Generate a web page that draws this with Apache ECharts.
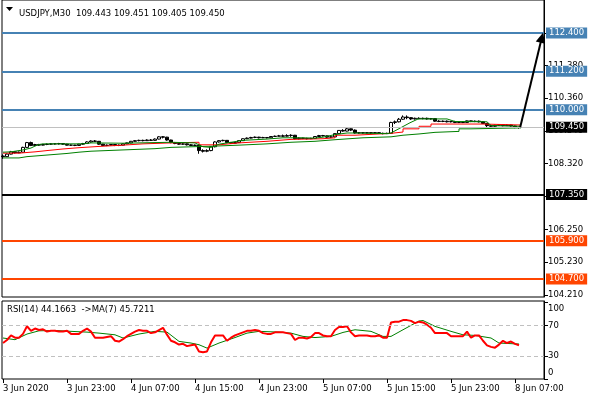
<!DOCTYPE html>
<html>
<head>
<meta charset="utf-8">
<script src="https://cdn.jsdelivr.net/npm/echarts@6/dist/echarts.min.js"></script>
<style>
  html, body { margin: 0; padding: 0; background: #fff; }
  #chart { width: 590px; height: 400px; }
</style>
</head>
<body>
<div id="chart"></div>
<script>
// USDJPY M30, one bar every 30 min from 3 Jun 15:00: [open, close, low, high]
const candles = [
  [108.55,108.53,108.46,108.60],[108.53,108.61,108.52,108.63],[108.61,108.68,108.60,108.71],[108.68,108.65,108.63,108.70],
  [108.65,108.67,108.64,108.69],[108.67,108.82,108.66,108.84],[108.82,108.97,108.80,108.99],[108.97,108.88,108.86,109.00],
  [108.88,108.91,108.87,108.93],[108.91,108.89,108.87,108.93],[108.89,108.91,108.88,108.93],[108.91,108.92,108.89,108.94],
  [108.92,108.93,108.90,108.95],[108.93,108.93,108.91,108.95],[108.93,108.94,108.91,108.96],[108.94,108.92,108.90,108.95],
  [108.92,108.89,108.88,108.93],[108.89,108.89,108.87,108.91],[108.89,108.88,108.86,108.90],[108.88,108.92,108.87,108.93],
  [108.92,108.94,108.90,108.96],[108.94,108.99,108.93,109.01],[108.99,109.02,108.97,109.04],[109.02,109.01,108.99,109.05],
  [109.01,108.92,108.90,109.02],[108.92,108.88,108.86,108.93],[108.88,108.89,108.86,108.91],[108.89,108.91,108.88,108.92],
  [108.91,108.88,108.86,108.92],[108.88,108.89,108.86,108.91],[108.89,108.93,108.88,108.94],[108.93,108.96,108.92,108.97],
  [108.96,109.01,108.95,109.02],[109.01,109.03,109.00,109.05],[109.03,109.04,109.01,109.06],[109.04,109.03,109.01,109.06],
  [109.03,109.05,109.02,109.07],[109.05,109.04,109.02,109.08],[109.04,109.08,109.03,109.10],[109.08,109.15,109.07,109.17],
  [109.15,109.14,109.10,109.17],[109.14,109.05,109.03,109.15],[109.05,108.97,108.95,109.06],[108.97,108.94,108.92,108.99],
  [108.94,108.92,108.90,108.96],[108.92,108.93,108.90,108.95],[108.93,108.90,108.88,108.94],[108.90,108.88,108.86,108.92],
  [108.88,108.89,108.86,108.91],[108.89,108.72,108.62,108.90],[108.72,108.70,108.66,108.76],[108.70,108.72,108.67,108.76],
  [108.72,108.84,108.70,108.86],[108.84,108.99,108.82,109.01],[108.99,109.03,108.97,109.05],[109.03,109.04,109.01,109.06],
  [109.04,108.97,108.95,109.05],[108.97,108.95,108.93,108.99],[108.95,108.97,108.94,108.99],[108.97,109.03,108.96,109.04],
  [109.03,109.09,109.02,109.10],[109.09,109.11,109.08,109.13],[109.11,109.13,109.10,109.15],[109.13,109.14,109.11,109.16],
  [109.14,109.12,109.10,109.15],[109.12,109.13,109.11,109.15],[109.13,109.12,109.10,109.14],[109.12,109.16,109.11,109.17],
  [109.16,109.17,109.15,109.19],[109.17,109.18,109.16,109.21],[109.18,109.17,109.15,109.22],[109.17,109.19,109.16,109.23],
  [109.19,109.20,109.15,109.23],[109.20,109.09,109.07,109.21],[109.09,109.11,109.07,109.13],[109.11,109.10,109.08,109.12],
  [109.10,109.09,109.07,109.12],[109.09,109.10,109.08,109.12],[109.10,109.16,109.09,109.17],[109.16,109.19,109.15,109.21],
  [109.19,109.18,109.16,109.21],[109.18,109.14,109.12,109.19],[109.14,109.15,109.12,109.17],[109.15,109.25,109.14,109.26],
  [109.25,109.35,109.24,109.36],[109.35,109.33,109.31,109.39],[109.33,109.40,109.32,109.43],[109.40,109.36,109.33,109.41],
  [109.36,109.27,109.25,109.38],[109.27,109.28,109.25,109.30],[109.28,109.27,109.25,109.30],[109.27,109.28,109.26,109.30],
  [109.28,109.27,109.24,109.29],[109.27,109.28,109.25,109.30],[109.28,109.26,109.24,109.29],[109.26,109.25,109.23,109.28],
  [109.25,109.26,109.24,109.28],[109.26,109.60,109.25,109.62],[109.60,109.62,109.55,109.66],[109.62,109.70,109.60,109.74],
  [109.70,109.77,109.68,109.82],[109.77,109.75,109.70,109.82],[109.75,109.71,109.68,109.76],[109.71,109.73,109.69,109.75],
  [109.73,109.72,109.70,109.76],[109.72,109.73,109.70,109.75],[109.73,109.71,109.69,109.75],[109.71,109.72,109.69,109.74],
  [109.72,109.64,109.62,109.73],[109.64,109.63,109.61,109.67],[109.63,109.64,109.61,109.66],[109.64,109.62,109.60,109.66],
  [109.62,109.63,109.60,109.65],[109.63,109.60,109.58,109.65],[109.60,109.61,109.58,109.63],[109.61,109.60,109.58,109.63],
  [109.60,109.65,109.59,109.66],[109.65,109.63,109.61,109.66],[109.63,109.64,109.61,109.66],[109.64,109.62,109.60,109.66],
  [109.62,109.57,109.55,109.63],[109.57,109.50,109.43,109.58],[109.50,109.48,109.45,109.53],[109.48,109.51,109.46,109.53],
  [109.51,109.53,109.49,109.55],[109.53,109.50,109.48,109.55],[109.50,109.52,109.49,109.54],[109.52,109.49,109.47,109.53],
  [109.49,109.44,109.42,109.50],[109.443,109.450,109.405,109.451]
];

// moving averages on the price pane: [bar, price]
const redMa = [[0,108.64],[4,108.68],[8,108.72],[11,108.77],[15,108.81],[19,108.85],[24,108.89],[30,108.93],[35,108.96],
  [42,108.98],[49,108.90],[54,108.96],[59,109.01],[66,109.07],[72,109.09],[80,109.12],[83,109.20],[88,109.26],[97,109.30],
  [100,109.40],[104,109.48],[107,109.55],[120,109.52],[129.5,109.52]];
const greenSlowMa = [[0,108.49],[4,108.53],[6,108.57],[10,108.60],[13,108.63],[16,108.67],[19,108.70],[22,108.72],[26,108.75],
  [32,108.78],[38,108.82],[42,108.86],[53,108.89],[59,108.93],[66,108.98],[72,109.01],[78,109.06],[83,109.12],[90,109.15],
  [97,109.20],[100,109.24],[104,109.29],[108,109.32],[114,109.40],[117,109.43],[129.5,109.43]];
const greenFastMa = [[0,108.67],[2,108.68],[5,108.74],[7,108.80],[8,108.86],[9,108.91],[10,108.93],[20,108.93],[22,108.96],
  [30,108.95],[38,108.97],[42,108.98],[48,108.96],[50,108.84],[52,108.82],[54,108.92],[57,108.98],[60,109.04],[66,109.08],
  [70,109.12],[74,109.12],[78,109.11],[80,109.14],[83,109.22],[86,109.27],[88,109.27],[96,109.25],[97,109.27],
  [101.75,109.59],[103.8,109.71],[111,109.71],[113,109.63],[121,109.62],[122,109.50],[129.5,109.48]];

// RSI(14), one value per bar, and its MA(7) as [bar, value]
const rsi = [47,51,57,54,54,59,69,63,66,64,65,62,63,63,62,62,63,59,59,59,63,66,62,54,54,54,55,56,50,49,
  52,56,59,62,64,63,63,60,61,64,67,58,50,48,45,46,43,44,45,36,35,36,48,57,57,57,50,54,57,59,
  61,63,63,64,63,60,59,59,61,61,61,60,59,51,54,54,53,55,60,60,57,56,56,64,68,68,69,61,56,57,
  57,57,56,56,57,54,54,74,75,75,77,77,76,73,75,74,71,67,60,60,60,60,56,56,56,56,62,54,57,57,
  50,44,42,41,45,50,47,49,46,44.17];
const rsiMa = [[0,53.6],[3,51.4],[6,58.8],[9,63],[13,63.5],[17,62.3],[21,61.3],[24,60],[28,57.8],[30,53.6],[34,58.8],
  [38,62.3],[41,61.3],[44,49.2],[47,47],[49,44.8],[51,40.4],[54,47],[58,54.2],[61,60],[64,62.3],[69,61.3],[72,60],
  [75,55.7],[78,54.2],[82,55.7],[85,60.9],[88,64.4],[92,62.3],[95,55.7],[97,55.7],[100,64.4],[104,75.8],[105,76.5],
  [108,68.8],[112,62.3],[115,57.8],[118,57],[122,53.6],[124,47],[129,45.72]];

// horizontal levels and the projection arrow
const levels = [
  { price: 112.40, color: '#4682B4', width: 2 },
  { price: 111.20, color: '#4682B4', width: 2 },
  { price: 110.00, color: '#4682B4', width: 2 },
  { price: 109.45, color: '#C0C0C0', width: 1, box: '#000' },
  { price: 107.35, color: '#000000', width: 2 },
  { price: 105.90, color: '#FF4500', width: 2 },
  { price: 104.70, color: '#FF4500', width: 2 }
];
const arrowFrom = [129.3, 109.45];
const arrowTo = [134.7, 112.25];

// axis ticks
const priceTicks = [104.21, 105.23, 106.25, 107.28, 108.32, 109.34, 110.36, 111.38, 112.40];
const rsiTicks = [0, 30, 70, 100];
const rsiLevels = [30, 70];
const timeTicks = [0, 16, 32, 48, 64, 80, 96, 112, 128];
const timeLabels = ['3 Jun 2020', '3 Jun 23:00', '4 Jun 07:00', '4 Jun 15:00', '4 Jun 23:00',
  '5 Jun 07:00', '5 Jun 15:00', '5 Jun 23:00', '8 Jun 07:00'];

const FONT = 'DejaVu Sans';
const FS = 8.5;
const X_MIN = -0.25, X_MAX = 135.25;

const chart = echarts.init(document.getElementById('chart'), null, { renderer: 'canvas' });

chart.setOption({
  animation: false,
  backgroundColor: '#fff',
  textStyle: { fontFamily: FONT },
  title: {
    text: 'USDJPY,M30  109.443 109.451 109.405 109.450',
    left: 14, top: 4,
    textStyle: { fontFamily: FONT, fontSize: FS, fontWeight: 'normal', color: '#000' }
  },
  graphic: [
    { type: 'polygon', shape: { points: [[6, 7], [13, 7], [9.5, 11]] }, style: { fill: '#000' } },
    { type: 'text', left: 7, top: 305,
      style: { text: 'RSI(14) 44.1663  ->MA(7) 45.7211', fill: '#000', font: FS + 'px "' + FONT + '"' } }
  ],
  grid: [
    { left: 2, right: 46, top: 0, height: 297, show: true, borderColor: '#000', borderWidth: 1, backgroundColor: '#fff' },
    { left: 2, right: 46, top: 301, height: 78, show: true, borderColor: '#000', borderWidth: 1, backgroundColor: '#fff' }
  ],
  xAxis: [
    { type: 'value', gridIndex: 0, min: X_MIN, max: X_MAX, show: false, axisLine: { onZero: false } },
    {
      type: 'value', gridIndex: 1, min: X_MIN, max: X_MAX,
      axisLine: { show: false, onZero: false },
      splitLine: { show: false },
      minorTick: { show: false },
      axisTick: { show: true, customValues: timeTicks, length: 4, lineStyle: { color: '#000' } },
      axisLabel: {
        customValues: timeTicks, align: 'left', margin: 5, color: '#000', fontFamily: FONT, fontSize: FS,
        formatter: v => timeLabels[timeTicks.indexOf(v)]
      }
    }
  ],
  yAxis: [
    {
      type: 'value', gridIndex: 0, position: 'right', min: 104.14, max: 113.43,
      axisLine: { show: true, onZero: false, lineStyle: { color: '#000' } },
      splitLine: { show: false },
      splitArea: { show: false },
      minorTick: { show: false },
      axisTick: { show: true, customValues: priceTicks, length: 4, lineStyle: { color: '#000' } },
      axisLabel: { customValues: priceTicks, margin: 4, color: '#000', fontFamily: FONT, fontSize: FS,
        formatter: v => v.toFixed(3) }
    },
    {
      type: 'value', gridIndex: 1, position: 'right', min: 0, max: 102,
      axisLine: { show: true, onZero: false, lineStyle: { color: '#000' } },
      splitLine: { show: false },
      minorTick: { show: false },
      axisTick: { show: true, customValues: rsiTicks, length: 4, lineStyle: { color: '#000' } },
      axisLabel: { customValues: rsiTicks, margin: 4, color: '#000', fontFamily: FONT, fontSize: FS,
        verticalAlignMaxLabel: 'top', verticalAlignMinLabel: 'bottom', padding: [2, 0, 2, 0] }
    }
  ],
  series: [
    {
      type: 'line', xAxisIndex: 0, yAxisIndex: 0, data: [], silent: true, z: 1,
      markLine: {
        silent: true, symbol: 'none', animation: false,
        data: levels.map(l => ({
          yAxis: l.price,
          lineStyle: { color: l.color, width: l.width, type: 'solid' },
          label: {
            show: true, position: 'end', distance: 2,
            formatter: l.price.toFixed(3),
            color: '#fff', backgroundColor: l.box || l.color,
            padding: [1, 3, 1, 3], fontFamily: FONT, fontSize: FS
          }
        }))
      }
    },
    {
      type: 'candlestick', xAxisIndex: 0, yAxisIndex: 0, z: 3,
      dimensions: ['bar', 'open', 'close', 'low', 'high'],
      encode: { x: 'bar', y: ['open', 'close', 'low', 'high'] },
      data: candles.map((c, i) => [i, c[0], c[1], c[2], c[3]]),
      barWidth: 3,
      itemStyle: { color: '#fff', color0: '#000', borderColor: '#000', borderColor0: '#000', borderWidth: 1 }
    },
    { type: 'line', xAxisIndex: 0, yAxisIndex: 0, data: greenSlowMa, step: 'end', symbol: 'none', z: 4,
      lineStyle: { color: '#008000', width: 1 } },
    { type: 'line', xAxisIndex: 0, yAxisIndex: 0, data: redMa, step: 'end', symbol: 'none', z: 4,
      lineStyle: { color: '#FF0000', width: 1 } },
    { type: 'line', xAxisIndex: 0, yAxisIndex: 0, data: greenFastMa, symbol: 'none', z: 4,
      lineStyle: { color: '#008000', width: 1 } },
    {
      type: 'lines', coordinateSystem: 'cartesian2d', xAxisIndex: 0, yAxisIndex: 0, z: 5,
      symbol: ['none', 'triangle'], symbolSize: 10,
      lineStyle: { color: '#000', width: 2, opacity: 1 },
      data: [{ coords: [arrowFrom, arrowTo] }]
    },
    {
      type: 'line', xAxisIndex: 1, yAxisIndex: 1, data: rsi.map((v, i) => [i, v]), symbol: 'none', z: 4,
      lineStyle: { color: '#FF0000', width: 2 },
      markLine: {
        silent: true, symbol: 'none', label: { show: false },
        data: rsiLevels.map(v => ({ yAxis: v })),
        lineStyle: { color: '#C0C0C0', width: 1, type: [4, 3] }
      }
    },
    { type: 'line', xAxisIndex: 1, yAxisIndex: 1, data: rsiMa, symbol: 'none', z: 3,
      lineStyle: { color: '#008000', width: 1 } }
  ]
});
</script>
</body>
</html>
